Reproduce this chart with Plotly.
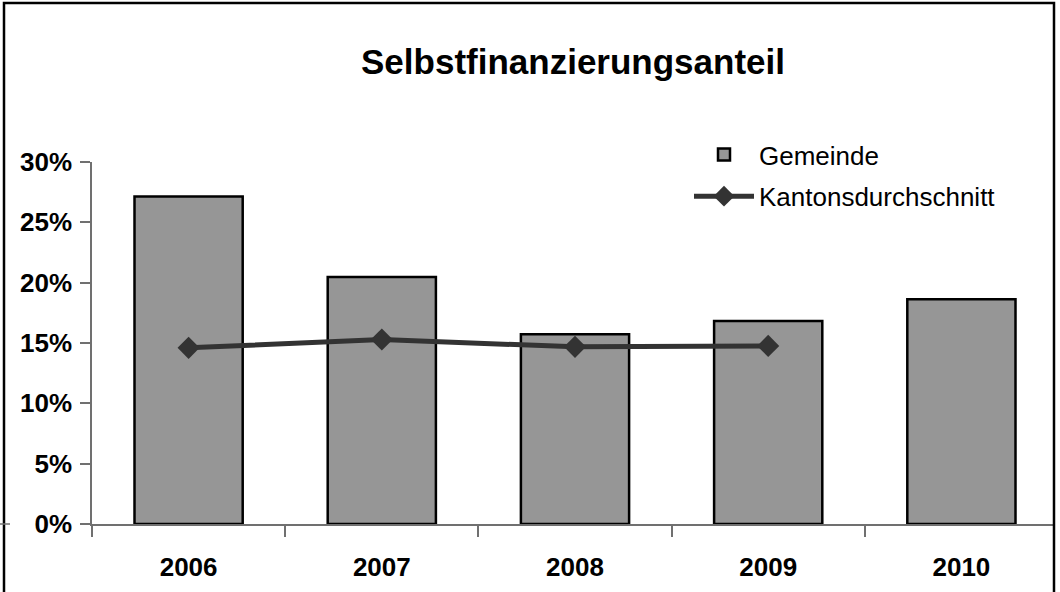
import numpy as np
import plotly.graph_objects as go

years = ["2006", "2007", "2008", "2009", "2010"]
gemeinde = [27.15, 20.47, 15.73, 16.83, 18.63]
kanton = [14.60, 15.29, 14.68, 14.76, None]
y_ticks = [0, 5, 10, 15, 20, 25, 30]
y_ticktext = ["0%", "5%", "10%", "15%", "20%", "25%", "30%"]
title_text = "Selbstfinanzierungsanteil"

FONT = "Liberation Sans, Arial, Helvetica, sans-serif"
AXIS_COL = "#707070"

W, H = 1060, 592
ML, MR, MT, MB = 92, 2, 162, 68
PW, PH = W - ML - MR, H - MT - MB


def px_x(p):
    return (p - ML) / PW


def px_y(p):
    return (H - MB - p) / PH


fig = go.Figure()
fig.add_trace(go.Bar(
    x=years, y=gemeinde, name="Gemeinde", legendgroup="g1",
    marker=dict(color="#969696", line=dict(color="#000000", width=2.5)),
))
fig.add_trace(go.Scatter(
    x=years, y=kanton, name="Kantonsdurchschnitt", mode="lines+markers",
    legendgroup="g2",
    line=dict(color="#333333", width=5),
    marker=dict(symbol="diamond", size=17, color="#333333"),
))

bounds = list(np.arange(len(years) + 1) - 0.5)

fig.update_layout(
    width=W, height=H,
    margin=dict(l=ML, r=MR, t=MT, b=MB, pad=0),
    paper_bgcolor="white", plot_bgcolor="white",
    font=dict(family=FONT, color="#000000"),
    bargap=0.44,
    title=dict(text="<b>" + title_text + "</b>", x=573 / W, xanchor="center",
               xref="container", y=1 - 62 / H, yanchor="middle", yref="container",
               font=dict(size=35, family=FONT, color="#000000")),
    showlegend=True,
    legend=dict(x=px_x(689), xanchor="left", y=px_y(131), yanchor="top",
                font=dict(size=26, family=FONT, color="#000000"),
                bgcolor="rgba(0,0,0,0)", itemwidth=60, tracegroupgap=5),
    xaxis=dict(type="category", range=[-0.5, len(years) - 0.5],
               showline=True, linecolor=AXIS_COL, linewidth=1.5,
               ticks="outside", ticklen=11, tickcolor=AXIS_COL, tickwidth=1.5,
               tickson="boundaries", showgrid=False, zeroline=False,
               tickfont=dict(size=26, family=FONT, color="#000000", weight="bold"),
               ticklabelstandoff=19),
    yaxis=dict(range=[0, 30], tickvals=y_ticks, ticktext=y_ticktext,
               showline=True, linecolor=AXIS_COL, linewidth=1.5,
               ticks="outside", ticklen=10, tickcolor=AXIS_COL, tickwidth=1.5,
               showgrid=False, zeroline=False,
               tickfont=dict(size=26, family=FONT, color="#000000", weight="bold"),
               ticklabelstandoff=3),
    xaxis2=dict(overlaying="x", range=[-0.5, len(years) - 0.5], tickvals=bounds,
                ticks="inside", ticklen=8, tickcolor=AXIS_COL, tickwidth=1.5,
                showticklabels=False, showgrid=False, zeroline=False, showline=False,
                anchor="y", side="bottom"),
    yaxis2=dict(overlaying="y", range=[0, 30], tickvals=y_ticks,
                ticks="inside", ticklen=8, tickcolor=AXIS_COL, tickwidth=1.5,
                showticklabels=False, showgrid=False, zeroline=False, showline=False,
                anchor="x", side="left"),
)

# white strip outside the right border, and the outer frame
fig.add_shape(type="rect", xref="paper", yref="paper",
              x0=px_x(1055), x1=px_x(1062), y0=px_y(600), y1=px_y(-5),
              fillcolor="white", line=dict(width=0), layer="above")
fig.add_shape(type="path", xref="paper", yref="paper",
              path="M %f %f L %f %f L %f %f L %f %f" % (
                  px_x(4), px_y(600), px_x(4), px_y(3),
                  px_x(1054), px_y(3), px_x(1054), px_y(600)),
              line=dict(color="#000000", width=2.5), layer="above")
fig.add_shape(type="line", xref="paper", yref="paper",
              x0=px_x(0), x1=px_x(10), y0=px_y(524), y1=px_y(524),
              line=dict(color=AXIS_COL, width=1.5), layer="above")

fig.write_html("out.html",
               config={"displayModeBar": False},
               post_script="document.body.style.margin='0';"
                           "document.body.style.overflow='hidden';")
